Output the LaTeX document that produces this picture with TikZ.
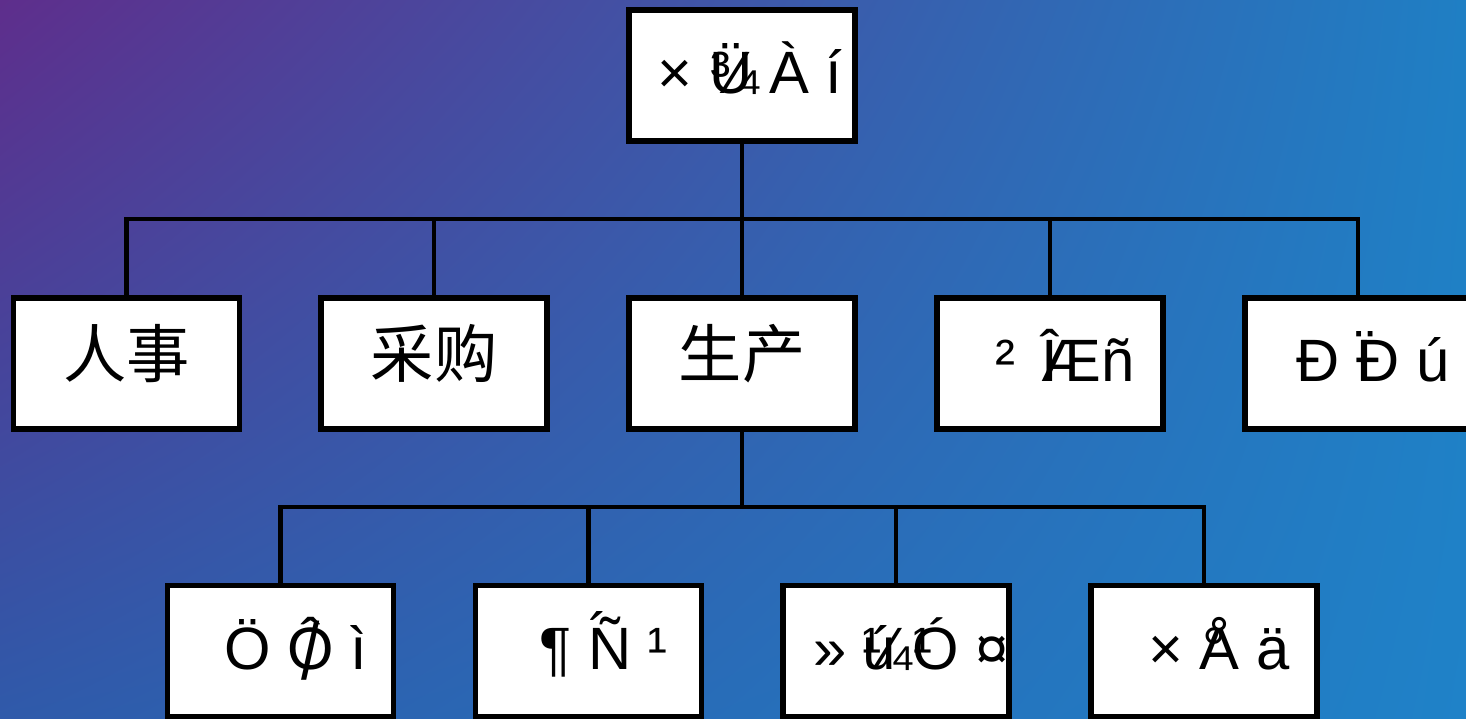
\documentclass[tikz,border=0pt]{standalone}
\usepackage{fontspec}
\setmainfont{Liberation Sans}
\newfontfamily\cjk{Noto Sans CJK SC}
\usetikzlibrary{positioning,calc,shadings}

\definecolor{bgpurple}{RGB}{94,46,140}
\definecolor{bgblue}{RGB}{31,127,196}
\definecolor{bgdeep}{RGB}{47,90,170}
\definecolor{bgright}{RGB}{31,130,200}

% one glyph laid over the left part of another
\newcommand{\ovl}[2]{\rlap{#2}#1}
\newcommand{\gb}[1]{\hspace*{0.3cm}#1}

\tikzset{
  unit/.style={draw=black, line width=1.7pt, fill=white, minimum width=2.26cm,
    minimum height=1.31cm, inner sep=0pt, text height=0.6cm, text depth=0.24cm,
    font=\fontsize{17}{20}\selectfont},
  cn/.style={font=\cjk\fontsize{18}{20}\selectfont, text depth=0.32cm},
  link/.style={line width=1.4pt, black}
}

\begin{document}
\begin{tikzpicture}

% background
\shade[upper left=bgpurple, upper right=bgblue, lower left=bgdeep, lower right=bgright]
  (0,0) rectangle (14.66,-7.19);
\useasboundingbox (0,0) rectangle (14.66,-7.19);

% top
\node[unit] (gm) at (7.42,-0.755) {\hspace*{0.16cm}× \ovl{Ü}{¾} À í};

% departments
\node[unit, cn] (hr)   at (1.265,-3.635) {人事};
\node[unit, cn] (buy)  at (4.34,-3.635)  {采购};
\node[unit, cn] (prod) at (7.42,-3.635)  {生产};
\node[unit] (fin)  at (10.50,-3.635) {\gb{²\, \ovl{Æ}{Î}ñ}};
\node[unit] (sale) at (13.58,-3.635) {\gb{Ð \ovl{Ð}{Ï} ú}};

% workshops
\node[unit] (qc)    at (2.805,-6.51) {\gb{Ö \ooalign{Ô\cr\hidewidth\raisebox{-0.18em}{\scalebox{1.1}[1.35]{/}}\hidewidth\cr} ì}};
\node[unit] (forge) at (5.885,-6.51) {\gb{¶ \ovl{Ñ}{\raisebox{0.22em}{´}} ¹}};
\node[unit] (mach)  at (8.96,-6.51)  {\gb{» \ovl{ú}{¼} \ovl{Ó}{¹} ¤}};
\node[unit] (asm)   at (12.04,-6.51) {\gb{× \ovl{Å}{\hspace{0.05em}°} ä}};

% links
\coordinate (b1) at (7.42,-2.19);
\coordinate (b2) at (7.42,-5.07);
\draw[link] (gm) -- (b1);
\foreach \n in {hr,buy,prod,fin,sale}
  \draw[link] (b1) -| (\n);
\draw[link] (prod) -- (b2);
\foreach \n in {qc,forge,mach,asm}
  \draw[link] (b2) -| (\n);

\end{tikzpicture}
\end{document}
